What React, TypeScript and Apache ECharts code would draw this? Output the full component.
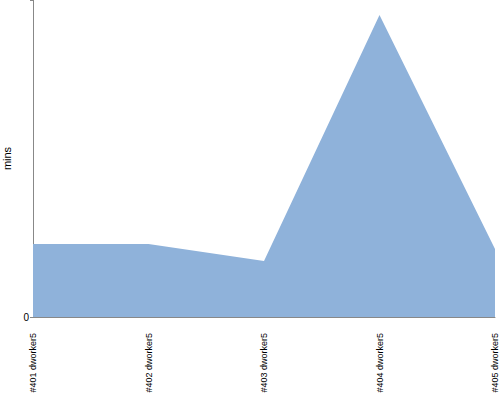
import React, { useEffect, useRef } from "react";
import * as echarts from "echarts";

const categories = ["#401 dworker5", "#402 dworker5", "#403 dworker5", "#404 dworker5", "#405 dworker5"];
const minsValues = [4.6, 4.6, 3.53, 19.05, 4.29];
const yMax = 20;

export default function App() {
  const ref = useRef<HTMLDivElement>(null);
  useEffect(() => {
    if (!ref.current) return;
    const chart = echarts.init(ref.current, null, { renderer: "svg" });
    chart.setOption({
      animation: false,
      grid: { left: 33, right: 5, top: 0, bottom: 83, outerBoundsMode: "none", containLabel: false },
      xAxis: {
        type: "category",
        data: categories,
        boundaryGap: false,
        axisLine: { lineStyle: { color: "#888", width: 1 } },
        axisTick: { show: false },
        axisLabel: {
          rotate: 90,
          color: "#000",
          fontSize: 9,
          fontFamily: "Liberation Sans",
          margin: 16,
          interval: 0,
        },
        splitLine: { show: false },
      },
      yAxis: {
        type: "value",
        min: 0,
        max: yMax,
        interval: yMax,
        name: "mins",
        nameLocation: "middle",
        nameGap: 19,
        nameTextStyle: { color: "#000", fontSize: 11, fontFamily: "Liberation Sans" },
        axisLine: { show: true, lineStyle: { color: "#888", width: 1 } },
        axisTick: { show: true, length: 3, lineStyle: { color: "#888" } },
        axisLabel: {
          color: "#000",
          fontSize: 10,
          fontFamily: "Liberation Sans",
          margin: 4,
          formatter: (v: number) => (v === 0 ? "0" : ""),
        },
        splitLine: { show: false },
      },
      series: [
        {
          type: "line",
          data: minsValues,
          symbol: "none",
          lineStyle: { width: 0, color: "#8fb2da" },
          areaStyle: { color: "#8fb2da", opacity: 1 },
          itemStyle: { color: "#8fb2da" },
        },
      ],
    });
    return () => chart.dispose();
  }, []);
  return <div ref={ref} style={{ width: 500, height: 400, position: "absolute", left: 0, top: 0 }} />;
}
